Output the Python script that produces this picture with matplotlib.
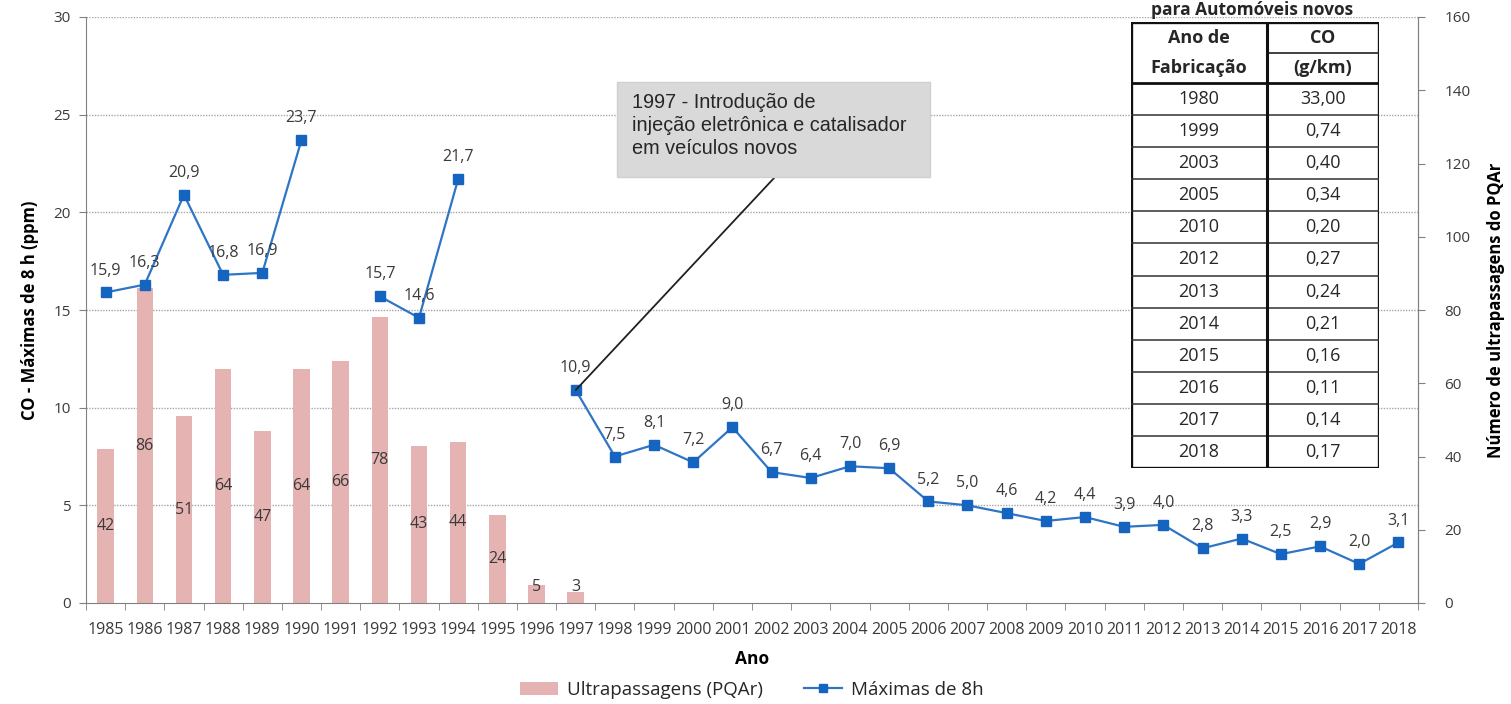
import matplotlib
matplotlib.use('Agg')
import matplotlib.pyplot as plt
import numpy as np
from matplotlib.patches import Rectangle, Patch
from matplotlib.lines import Line2D

# ---------------- data ----------------
years = list(range(1985, 2019))
bar_years = list(range(1985, 1998))
ultrapassagens = [42, 86, 51, 64, 47, 64, 66, 78, 43, 44, 24, 5, 3]
maximas = [15.9, 16.3, 20.9, 16.8, 16.9, 23.7, np.nan, 15.7, 14.6, 21.7,
           np.nan, np.nan, 10.9, 7.5, 8.1, 7.2, 9.0, 6.7, 6.4, 7.0, 6.9,
           5.2, 5.0, 4.6, 4.2, 4.4, 3.9, 4.0, 2.8, 3.3, 2.5, 2.9, 2.0, 3.1]
tabela_anos = ['1980', '1999', '2003', '2005', '2010', '2012', '2013',
               '2014', '2015', '2016', '2017', '2018']
tabela_co = ['33,00', '0,74', '0,40', '0,34', '0,20', '0,27', '0,24',
             '0,21', '0,16', '0,11', '0,14', '0,17']
left_ticks = [0, 5, 10, 15, 20, 25, 30]
right_ticks = [0, 20, 40, 60, 80, 100, 120, 140, 160]

W, H = 1511, 704
FONT = 'Open Sans'
TXT = '#3A3A3A'
BAR_C = '#E6B3B3'
LINE_C = '#2E75C6'
MARK_C = '#1565C0'

plt.rcParams['font.family'] = [FONT, 'DejaVu Sans']

fig = plt.figure(figsize=(W / 100, H / 100), dpi=100)
x0, x1, y0, y1 = 86, 1418, 17, 603
ax = fig.add_axes([x0 / W, 1 - y1 / H, (x1 - x0) / W, (y1 - y0) / H])
ax2 = ax.twinx()
ax.set_zorder(2)
ax2.set_zorder(1)
ax.patch.set_visible(False)

pos = {y: i for i, y in enumerate(years)}
xs = np.arange(len(years))

# bars on right axis
bx = [pos[y] for y in bar_years]
ax2.bar(bx, ultrapassagens, width=0.42, color=BAR_C, zorder=2)
for xb, v in zip(bx, ultrapassagens):
    yl = max(v / 2, 4.5)
    ax2.text(xb, yl, str(v), ha='center', va='center', fontsize=11.5, color=TXT, zorder=3)

# grid lines (at left-axis ticks, drawn behind bars)
for t in left_ticks[1:]:
    ax2.axhline(t * 160 / 30, color='#A6A6A6', lw=1.0, ls=(0, (1, 1)), zorder=0)

ax2.set_ylim(0, 160)
ax2.set_yticks(right_ticks)
ax2.tick_params(axis='y', direction='out', length=5, color='#808080', labelsize=11,
                labelcolor=TXT, pad=14)
ax2.set_ylabel('Número de ultrapassagens do PQAr', fontsize=12, fontweight='bold',
               color='black', labelpad=12)

# line on left axis
ax.plot(xs, maximas, color=LINE_C, lw=1.6, marker='s', markersize=7,
        markerfacecolor=MARK_C, markeredgecolor=MARK_C, zorder=4)
for xi, v in zip(xs, maximas):
    if np.isnan(v):
        continue
    ax.annotate(f'{v:.1f}'.replace('.', ','), (xi, v), xytext=(0, 10),
                textcoords='offset points', ha='center', va='bottom',
                fontsize=11.5, color=TXT, zorder=5)

ax.set_ylim(0, 30)
ax.set_yticks(left_ticks)
ax.set_xlim(-0.5, len(years) - 0.5)
ax.set_xticks(xs)
ax.set_xticklabels([str(y) for y in years])
ax.set_xticks(np.arange(-0.5, len(years), 1.0), minor=True)
ax.tick_params(axis='x', which='major', length=0, labelsize=11.5, labelcolor=TXT, pad=14)
ax.tick_params(axis='x', which='minor', length=5, color='#808080', direction='out')
ax.tick_params(axis='y', direction='out', length=5, color='#808080', labelsize=11,
               labelcolor=TXT, pad=6)
ax.set_ylabel('CO - Máximas de 8 h (ppm)', fontsize=12, fontweight='bold', labelpad=10)
ax.set_xlabel('Ano', fontsize=12.5, fontweight='bold', labelpad=8)

for a in (ax, ax2):
    a.spines['top'].set_visible(False)
    for s in ('left', 'right', 'bottom'):
        a.spines[s].set_color('#808080')
ax2.spines['left'].set_visible(False)
ax2.spines['bottom'].set_visible(False)

# annotation
ax.annotate('', xy=(pos[1997], maximas[pos[1997]]), xytext=(775, H - 177),
            textcoords='figure pixels',
            arrowprops=dict(arrowstyle='-', color='#202020', lw=1.3, shrinkA=0, shrinkB=0),
            zorder=6)
fig.patches.append(Rectangle((617 / W, 1 - 177 / H), (930 - 617) / W, (177 - 82) / H,
                             transform=fig.transFigure, facecolor='#D9D9D9',
                             edgecolor='#D0D0D0', zorder=7))
fig.text(632 / W, 1 - 93 / H,
         '1997 - Introdução de\ninjeção eletrônica e catalisador\nem veículos novos',
         ha='left', va='top', fontsize=14.3, family=['Liberation Sans', 'DejaVu Sans'],
         color='#262626', linespacing=1.25, zorder=8)

# legend
handles = [Patch(facecolor=BAR_C, edgecolor='none', label='Ultrapassagens (PQAr)'),
           Line2D([], [], color=LINE_C, lw=1.6, marker='s', markersize=6,
                  markerfacecolor=MARK_C, markeredgecolor=MARK_C, label='Máximas de 8h')]
fig.legend(handles=handles, loc='center', bbox_to_anchor=(752 / W, 1 - 690 / H), ncol=2,
           frameon=False, fontsize=13.5, handlelength=2.0, handletextpad=0.5,
           columnspacing=2.2, labelcolor='#262626')

# table (top right)
tx0, tx1, ty0, ty1 = 1131, 1379, 22, 468
tax = fig.add_axes([tx0 / W, 1 - ty1 / H, (tx1 - tx0) / W, (ty1 - ty0) / H], zorder=10)
tw, th = tx1 - tx0, ty1 - ty0
tax.set_xlim(0, tw)
tax.set_ylim(th, 0)
tax.axis('off')
tax.add_patch(Rectangle((0, 0), tw, th, facecolor='white', edgecolor='none'))
cdiv = 1267 - tx0
head = 83 - ty0
rowh = (th - head) / len(tabela_anos)
# header
for txt, xx, yy in [('Ano de', cdiv / 2, 16), ('Fabricação', cdiv / 2, 46),
                    ('CO', (cdiv + tw) / 2, 16), ('(g/km)', (cdiv + tw) / 2, 46)]:
    tax.text(xx, yy, txt, ha='center', va='center', fontsize=13, fontweight='bold',
             color='#262626')
tax.plot([cdiv, tw], [31, 31], color='#202020', lw=1.2)
for i, (a_, c_) in enumerate(zip(tabela_anos, tabela_co)):
    yc = head + (i + 0.5) * rowh
    tax.text(cdiv / 2, yc, a_, ha='center', va='center', fontsize=13, color='#262626')
    tax.text((cdiv + tw) / 2, yc, c_, ha='center', va='center', fontsize=13, color='#262626')
    if i > 0:
        yl = head + i * rowh
        tax.plot([0, tw], [yl, yl], color='#303030', lw=1.1)
tax.plot([0, tw], [head, head], color='#101010', lw=2.0)
tax.plot([cdiv, cdiv], [0, th], color='#101010', lw=2.2)
tax.add_patch(Rectangle((0, 0), tw, th, facecolor='none', edgecolor='#101010', lw=2.4))
fig.text(1252 / W, 1 - 15 / H, 'para Automóveis novos', ha='center', va='baseline',
         fontsize=12.5, fontweight='bold', color='#262626')

fig.savefig('out.png', dpi=100)
